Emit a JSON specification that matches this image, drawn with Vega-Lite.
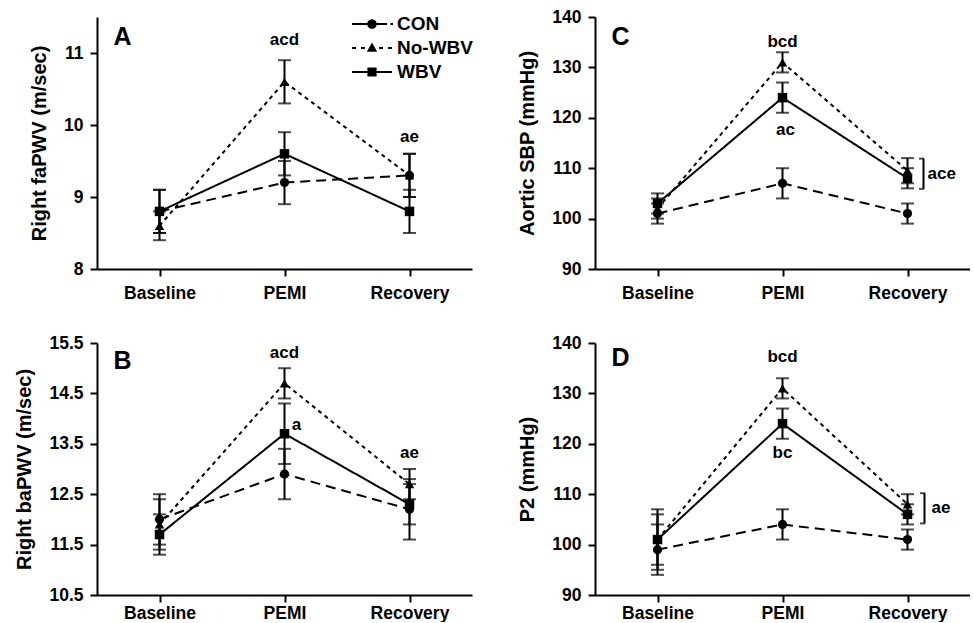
{
  "$schema": "https://vega.github.io/schema/vega-lite/v6.json",
  "padding": {"left": 14, "top": 8, "right": 0, "bottom": 0},
  "background": "white",
  "columns": 2,
  "spacing": {"row": 74, "column": 123},
  "bounds": "flush",
  "resolve": {"scale": {"shape": "independent", "strokeDash": "independent", "x": "independent", "y": "independent"}},
  "datasets": {
    "A": [
      {"s":"CON","t":"Baseline","m":8.8,"lo":8.5,"hi":9.1},
      {"s":"CON","t":"PEMI","m":9.2,"lo":8.9,"hi":9.5},
      {"s":"CON","t":"Recovery","m":9.3,"lo":9.0,"hi":9.6},
      {"s":"No-WBV","t":"Baseline","m":8.6,"lo":8.4,"hi":8.8},
      {"s":"No-WBV","t":"PEMI","m":10.6,"lo":10.3,"hi":10.9},
      {"s":"No-WBV","t":"Recovery","m":9.3,"lo":9.0,"hi":9.6},
      {"s":"WBV","t":"Baseline","m":8.8,"lo":8.5,"hi":9.1},
      {"s":"WBV","t":"PEMI","m":9.6,"lo":9.3,"hi":9.9},
      {"s":"WBV","t":"Recovery","m":8.8,"lo":8.5,"hi":9.1}
    ],
    "B": [
      {"s":"CON","t":"Baseline","m":12.0,"lo":11.5,"hi":12.5},
      {"s":"CON","t":"PEMI","m":12.9,"lo":12.4,"hi":13.4},
      {"s":"CON","t":"Recovery","m":12.2,"lo":11.6,"hi":12.8},
      {"s":"No-WBV","t":"Baseline","m":11.9,"lo":11.4,"hi":12.4},
      {"s":"No-WBV","t":"PEMI","m":14.7,"lo":14.4,"hi":15.0},
      {"s":"No-WBV","t":"Recovery","m":12.7,"lo":12.4,"hi":13.0},
      {"s":"WBV","t":"Baseline","m":11.7,"lo":11.3,"hi":12.1},
      {"s":"WBV","t":"PEMI","m":13.7,"lo":13.1,"hi":14.3},
      {"s":"WBV","t":"Recovery","m":12.3,"lo":11.9,"hi":12.7}
    ],
    "C": [
      {"s":"CON","t":"Baseline","m":101,"lo":99,"hi":103},
      {"s":"CON","t":"PEMI","m":107,"lo":104,"hi":110},
      {"s":"CON","t":"Recovery","m":101,"lo":99,"hi":103},
      {"s":"No-WBV","t":"Baseline","m":102,"lo":100,"hi":104},
      {"s":"No-WBV","t":"PEMI","m":131,"lo":129,"hi":133},
      {"s":"No-WBV","t":"Recovery","m":109.5,"lo":107,"hi":112},
      {"s":"WBV","t":"Baseline","m":103,"lo":101,"hi":105},
      {"s":"WBV","t":"PEMI","m":124,"lo":121,"hi":127},
      {"s":"WBV","t":"Recovery","m":108,"lo":106,"hi":110}
    ],
    "D": [
      {"s":"CON","t":"Baseline","m":99,"lo":94,"hi":104},
      {"s":"CON","t":"PEMI","m":104,"lo":101,"hi":107},
      {"s":"CON","t":"Recovery","m":101,"lo":99,"hi":103},
      {"s":"No-WBV","t":"Baseline","m":101,"lo":96,"hi":106},
      {"s":"No-WBV","t":"PEMI","m":131,"lo":129,"hi":133},
      {"s":"No-WBV","t":"Recovery","m":108,"lo":106,"hi":110},
      {"s":"WBV","t":"Baseline","m":101,"lo":95,"hi":107},
      {"s":"WBV","t":"PEMI","m":124,"lo":121,"hi":127},
      {"s":"WBV","t":"Recovery","m":106,"lo":104,"hi":108}
    ]
  },
  "concat": [
    {
      "width": 375, "height": 252,
      "data": {"name": "A"},
      "encoding": {
        "x": {"field":"t","type":"ordinal","scale":{"type":"point","padding":0.5,"domain":["Baseline","PEMI","Recovery"]},"axis":{"title":null,"labelAngle":0}},
        "y": {"field":"m","type":"quantitative","title":"Right faPWV (m/sec)","scale":{"domain":[8,11.5],"nice":false,"zero":false},"axis":{"values":[8,9,10,11]}}
      },
      "layer": [
        {"transform": [{"filter": "datum.t == 'Baseline'"}],
         "mark": {"type":"point","filled":true,"color":"black","opacity":1,"size":1},
         "encoding": {
           "shape": {"field":"s","type":"nominal",
             "scale": {"domain":["CON","No-WBV","WBV"],
               "range": [
                 "M-2,-0.1H-0.42V0.1H-2ZM0.42,-0.1H1.5V0.1H0.42ZM1.85,-0.1H2.1V0.1H1.85ZM0.48,0A0.48,0.48,0,1,1,-0.48,0A0.48,0.48,0,1,1,0.48,0Z",
                 "M-2,-0.1H-1.6V0.1H-2ZM-1.1,-0.1H-0.7V0.1H-1.1ZM0.7,-0.1H1.1V0.1H0.7ZM1.6,-0.1H2V0.1H1.6ZM0,-0.55L0.52,0.38L-0.52,0.38Z",
                 "M-2,-0.1H-0.44V0.1H-2ZM0.44,-0.1H2V0.1H0.44ZM-0.46,-0.46H0.46V0.46H-0.46Z"
               ]},
             "legend": {"orient":"none","legendX":264,"legendY":-4,"title":null,"symbolSize":400,"labelFontSize":19,"labelFontWeight":"bold","labelFont":"Liberation Sans","labelColor":"black","labelOffset":14,"rowPadding":3,"symbolOpacity":1,"padding":0,
               "encode": {"symbols": {"update": {"fill": {"value":"black"}, "stroke": {"value":"black"}, "strokeWidth": {"value":0.5}, "opacity": {"value":1}, "size": {"value":400}}}}}}
         }},
        {"mark": {"type":"line","color":"black","strokeWidth":2},
         "encoding": {"strokeDash": {"field":"s","type":"nominal","scale":{"domain":["CON","No-WBV","WBV"],"range":[[10,6],[4,4],[1,0]]},"legend":null}}},
        {"mark": {"type":"rule","color":"black","strokeWidth":2},
         "encoding": {"y": {"field":"lo","type":"quantitative","title":"Right faPWV (m/sec)"}, "y2": {"field":"hi"}, "detail": {"field":"s"}}},
        {"mark": {"type":"tick","color":"black","size":13,"thickness":2},
         "encoding": {"y": {"field":"lo","type":"quantitative","title":"Right faPWV (m/sec)"}}},
        {"mark": {"type":"tick","color":"black","size":13,"thickness":2},
         "encoding": {"y": {"field":"hi","type":"quantitative","title":"Right faPWV (m/sec)"}}},
        {"transform": [{"filter": "datum.s == 'CON'"}], "mark": {"type":"point","shape":"circle","filled":true,"color":"black","opacity":1,"size":85}},
        {"transform": [{"filter": "datum.s == 'No-WBV'"}], "mark": {"type":"point","shape":"triangle-up","filled":true,"color":"black","opacity":1,"size":90}},
        {"transform": [{"filter": "datum.s == 'WBV'"}], "mark": {"type":"point","shape":"square","filled":true,"color":"black","opacity":1,"size":90}},
        {"transform": [{"filter": "datum.s == 'CON' && datum.t == 'Baseline'"}],
         "mark": {"type":"text","fontSize":25,"fontWeight":"bold","baseline":"middle","dx":-37},
         "encoding": {"y": {"datum":11.22}, "text": {"value":"A"}}},
        {"transform": [{"filter": "datum.s == 'CON' && datum.t == 'PEMI'"}],
         "mark": {"type":"text","fontSize":17,"fontWeight":"bold","baseline":"middle"},
         "encoding": {"y": {"datum":11.18}, "text": {"value":"acd"}}},
        {"transform": [{"filter": "datum.s == 'CON' && datum.t == 'Recovery'"}],
         "mark": {"type":"text","fontSize":17,"fontWeight":"bold","baseline":"middle"},
         "encoding": {"y": {"datum":9.84}, "text": {"value":"ae"}}}
      ]
    },
    {
      "width": 375, "height": 252,
      "data": {"name": "C"},
      "encoding": {
        "x": {"field":"t","type":"ordinal","scale":{"type":"point","padding":0.5,"domain":["Baseline","PEMI","Recovery"]},"axis":{"title":null,"labelAngle":0}},
        "y": {"field":"m","type":"quantitative","title":"Aortic SBP (mmHg)","scale":{"domain":[90,140],"nice":false,"zero":false},"axis":{"values":[90,100,110,120,130,140]}}
      },
      "layer": [
        {"mark": {"type":"line","color":"black","strokeWidth":2},
         "encoding": {"strokeDash": {"field":"s","type":"nominal","scale":{"domain":["CON","No-WBV","WBV"],"range":[[10,6],[4,4],[1,0]]},"legend":null}}},
        {"mark": {"type":"rule","color":"black","strokeWidth":2},
         "encoding": {"y": {"field":"lo","type":"quantitative","title":"Aortic SBP (mmHg)"}, "y2": {"field":"hi"}, "detail": {"field":"s"}}},
        {"mark": {"type":"tick","color":"black","size":13,"thickness":2},
         "encoding": {"y": {"field":"lo","type":"quantitative","title":"Aortic SBP (mmHg)"}}},
        {"mark": {"type":"tick","color":"black","size":13,"thickness":2},
         "encoding": {"y": {"field":"hi","type":"quantitative","title":"Aortic SBP (mmHg)"}}},
        {"transform": [{"filter": "datum.s == 'CON'"}], "mark": {"type":"point","shape":"circle","filled":true,"color":"black","opacity":1,"size":85}},
        {"transform": [{"filter": "datum.s == 'No-WBV'"}], "mark": {"type":"point","shape":"triangle-up","filled":true,"color":"black","opacity":1,"size":90}},
        {"transform": [{"filter": "datum.s == 'WBV'"}], "mark": {"type":"point","shape":"square","filled":true,"color":"black","opacity":1,"size":90}},
        {"transform": [{"filter": "datum.s == 'CON' && datum.t == 'Baseline'"}],
         "mark": {"type":"text","fontSize":25,"fontWeight":"bold","baseline":"middle","dx":-37},
         "encoding": {"y": {"datum":136}, "text": {"value":"C"}}},
        {"transform": [{"filter": "datum.s == 'CON' && datum.t == 'PEMI'"}],
         "mark": {"type":"text","fontSize":17,"fontWeight":"bold","baseline":"middle"},
         "encoding": {"y": {"datum":135}, "text": {"value":"bcd"}}},
        {"transform": [{"filter": "datum.s == 'CON' && datum.t == 'PEMI'"}],
         "mark": {"type":"text","fontSize":17,"fontWeight":"bold","baseline":"middle","dx":3},
         "encoding": {"y": {"datum":117.5}, "text": {"value":"ac"}}},
        {"transform": [{"filter": "datum.s == 'CON' && datum.t == 'Recovery'"}],
         "mark": {"type":"rule","color":"black","strokeWidth":2,"xOffset":16},
         "encoding": {"y": {"datum":111.9}, "y2": {"datum":105.9}}},
        {"transform": [{"filter": "datum.s == 'CON' && datum.t == 'Recovery'"}],
         "mark": {"type":"tick","color":"black","size":5,"thickness":2,"xOffset":14},
         "encoding": {"y": {"datum":111.9}}},
        {"transform": [{"filter": "datum.s == 'CON' && datum.t == 'Recovery'"}],
         "mark": {"type":"tick","color":"black","size":5,"thickness":2,"xOffset":14},
         "encoding": {"y": {"datum":105.9}}},
        {"transform": [{"filter": "datum.s == 'CON' && datum.t == 'Recovery'"}],
         "mark": {"type":"text","fontSize":17,"fontWeight":"bold","baseline":"middle","align":"left","dx":20},
         "encoding": {"y": {"datum":108.9}, "text": {"value":"ace"}}}
      ]
    },
    {
      "width": 375, "height": 252,
      "data": {"name": "B"},
      "encoding": {
        "x": {"field":"t","type":"ordinal","scale":{"type":"point","padding":0.5,"domain":["Baseline","PEMI","Recovery"]},"axis":{"title":null,"labelAngle":0,"labelPadding":2}},
        "y": {"field":"m","type":"quantitative","title":"Right baPWV (m/sec)","scale":{"domain":[10.5,15.5],"nice":false,"zero":false},"axis":{"values":[10.5,11.5,12.5,13.5,14.5,15.5],"format":".1f"}}
      },
      "layer": [
        {"mark": {"type":"line","color":"black","strokeWidth":2},
         "encoding": {"strokeDash": {"field":"s","type":"nominal","scale":{"domain":["CON","No-WBV","WBV"],"range":[[10,6],[4,4],[1,0]]},"legend":null}}},
        {"mark": {"type":"rule","color":"black","strokeWidth":2},
         "encoding": {"y": {"field":"lo","type":"quantitative","title":"Right baPWV (m/sec)"}, "y2": {"field":"hi"}, "detail": {"field":"s"}}},
        {"mark": {"type":"tick","color":"black","size":13,"thickness":2},
         "encoding": {"y": {"field":"lo","type":"quantitative","title":"Right baPWV (m/sec)"}}},
        {"mark": {"type":"tick","color":"black","size":13,"thickness":2},
         "encoding": {"y": {"field":"hi","type":"quantitative","title":"Right baPWV (m/sec)"}}},
        {"transform": [{"filter": "datum.s == 'CON'"}], "mark": {"type":"point","shape":"circle","filled":true,"color":"black","opacity":1,"size":85}},
        {"transform": [{"filter": "datum.s == 'No-WBV'"}], "mark": {"type":"point","shape":"triangle-up","filled":true,"color":"black","opacity":1,"size":90}},
        {"transform": [{"filter": "datum.s == 'WBV'"}], "mark": {"type":"point","shape":"square","filled":true,"color":"black","opacity":1,"size":90}},
        {"transform": [{"filter": "datum.s == 'CON' && datum.t == 'Baseline'"}],
         "mark": {"type":"text","fontSize":25,"fontWeight":"bold","baseline":"middle","dx":-37},
         "encoding": {"y": {"datum":15.14}, "text": {"value":"B"}}},
        {"transform": [{"filter": "datum.s == 'CON' && datum.t == 'PEMI'"}],
         "mark": {"type":"text","fontSize":17,"fontWeight":"bold","baseline":"middle"},
         "encoding": {"y": {"datum":15.3}, "text": {"value":"acd"}}},
        {"transform": [{"filter": "datum.s == 'CON' && datum.t == 'PEMI'"}],
         "mark": {"type":"text","fontSize":17,"fontWeight":"bold","baseline":"middle","dx":12},
         "encoding": {"y": {"datum":13.87}, "text": {"value":"a"}}},
        {"transform": [{"filter": "datum.s == 'CON' && datum.t == 'Recovery'"}],
         "mark": {"type":"text","fontSize":17,"fontWeight":"bold","baseline":"middle"},
         "encoding": {"y": {"datum":13.31}, "text": {"value":"ae"}}}
      ]
    },
    {
      "width": 375, "height": 252,
      "data": {"name": "D"},
      "encoding": {
        "x": {"field":"t","type":"ordinal","scale":{"type":"point","padding":0.5,"domain":["Baseline","PEMI","Recovery"]},"axis":{"title":null,"labelAngle":0,"labelPadding":2}},
        "y": {"field":"m","type":"quantitative","title":"P2 (mmHg)","scale":{"domain":[90,140],"nice":false,"zero":false},"axis":{"values":[90,100,110,120,130,140]}}
      },
      "layer": [
        {"mark": {"type":"line","color":"black","strokeWidth":2},
         "encoding": {"strokeDash": {"field":"s","type":"nominal","scale":{"domain":["CON","No-WBV","WBV"],"range":[[10,6],[4,4],[1,0]]},"legend":null}}},
        {"mark": {"type":"rule","color":"black","strokeWidth":2},
         "encoding": {"y": {"field":"lo","type":"quantitative","title":"P2 (mmHg)"}, "y2": {"field":"hi"}, "detail": {"field":"s"}}},
        {"mark": {"type":"tick","color":"black","size":13,"thickness":2},
         "encoding": {"y": {"field":"lo","type":"quantitative","title":"P2 (mmHg)"}}},
        {"mark": {"type":"tick","color":"black","size":13,"thickness":2},
         "encoding": {"y": {"field":"hi","type":"quantitative","title":"P2 (mmHg)"}}},
        {"transform": [{"filter": "datum.s == 'CON'"}], "mark": {"type":"point","shape":"circle","filled":true,"color":"black","opacity":1,"size":85}},
        {"transform": [{"filter": "datum.s == 'No-WBV'"}], "mark": {"type":"point","shape":"triangle-up","filled":true,"color":"black","opacity":1,"size":90}},
        {"transform": [{"filter": "datum.s == 'WBV'"}], "mark": {"type":"point","shape":"square","filled":true,"color":"black","opacity":1,"size":90}},
        {"transform": [{"filter": "datum.s == 'CON' && datum.t == 'Baseline'"}],
         "mark": {"type":"text","fontSize":25,"fontWeight":"bold","baseline":"middle","dx":-37},
         "encoding": {"y": {"datum":137}, "text": {"value":"D"}}},
        {"transform": [{"filter": "datum.s == 'CON' && datum.t == 'PEMI'"}],
         "mark": {"type":"text","fontSize":17,"fontWeight":"bold","baseline":"middle"},
         "encoding": {"y": {"datum":137.2}, "text": {"value":"bcd"}}},
        {"transform": [{"filter": "datum.s == 'CON' && datum.t == 'PEMI'"}],
         "mark": {"type":"text","fontSize":17,"fontWeight":"bold","baseline":"middle"},
         "encoding": {"y": {"datum":118.2}, "text": {"value":"bc"}}},
        {"transform": [{"filter": "datum.s == 'CON' && datum.t == 'Recovery'"}],
         "mark": {"type":"rule","color":"black","strokeWidth":2,"xOffset":17},
         "encoding": {"y": {"datum":110.2}, "y2": {"datum":104.2}}},
        {"transform": [{"filter": "datum.s == 'CON' && datum.t == 'Recovery'"}],
         "mark": {"type":"tick","color":"black","size":5,"thickness":2,"xOffset":15},
         "encoding": {"y": {"datum":110.2}}},
        {"transform": [{"filter": "datum.s == 'CON' && datum.t == 'Recovery'"}],
         "mark": {"type":"tick","color":"black","size":5,"thickness":2,"xOffset":15},
         "encoding": {"y": {"datum":104.2}}},
        {"transform": [{"filter": "datum.s == 'CON' && datum.t == 'Recovery'"}],
         "mark": {"type":"text","fontSize":17,"fontWeight":"bold","baseline":"middle","align":"left","dx":24},
         "encoding": {"y": {"datum":107.2}, "text": {"value":"ae"}}}
      ]
    }
  ],
  "config": {
    "font": "Liberation Sans",
    "view": {"stroke": null},
    "text": {"font": "Liberation Sans", "color": "black"},
    "axis": {
      "grid": false,
      "domainColor": "black", "domainWidth": 2,
      "tickColor": "black", "tickWidth": 2, "tickSize": 7,
      "labelFont": "Liberation Sans", "labelFontSize": 17.5, "labelFontWeight": "bold", "labelColor": "black", "labelPadding": 7,
      "titleFont": "Liberation Sans", "titleFontSize": 20, "titleFontWeight": "bold", "titleColor": "black", "titlePadding": 14
    },
    "axisX": {"labelPadding": 8}
  }
}
